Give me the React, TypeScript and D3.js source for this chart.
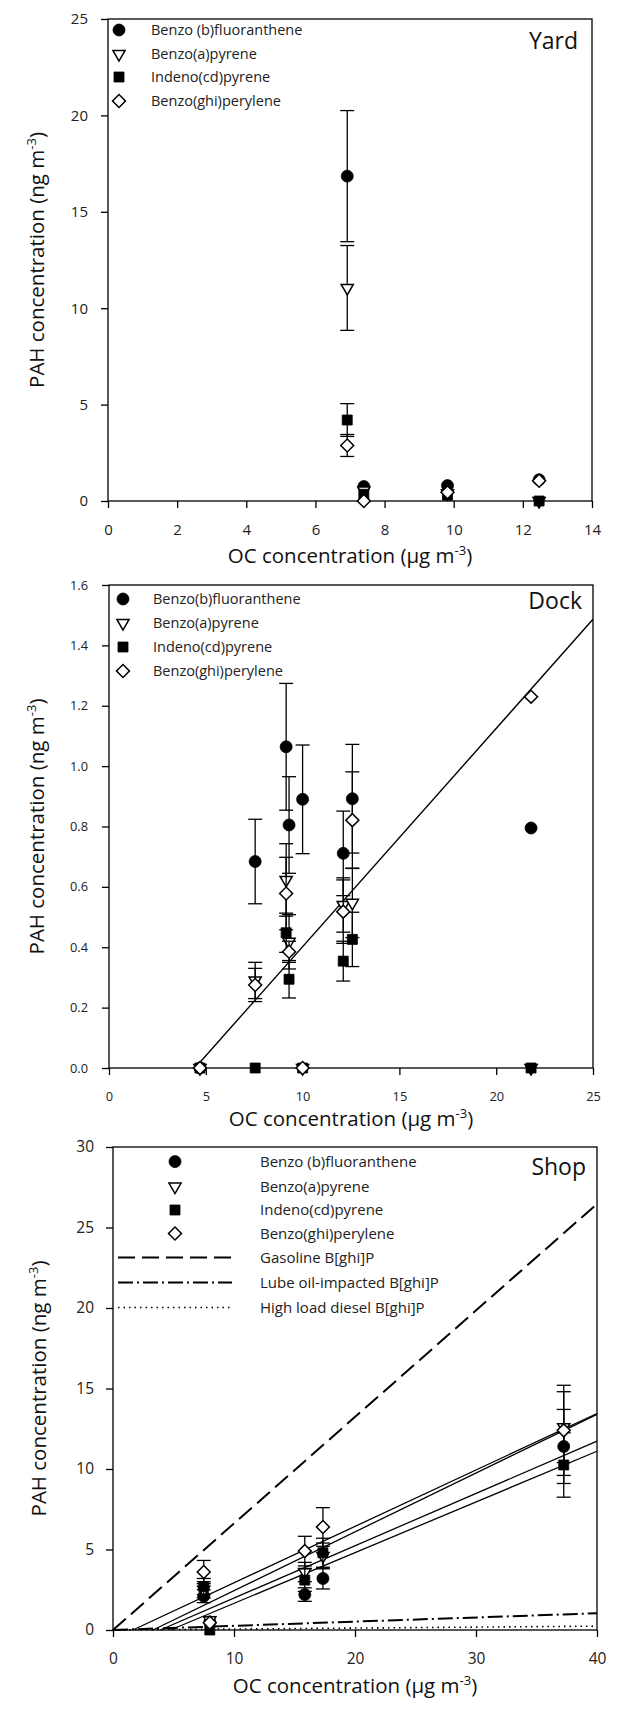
import * as d3 from "d3";
import { useRef, useEffect } from "react";

// legend labels
const pahNamesSpaced = ["Benzo (b)fluoranthene", "Benzo(a)pyrene", "Indeno(cd)pyrene", "Benzo(ghi)perylene"];
const pahNames = ["Benzo(b)fluoranthene", "Benzo(a)pyrene", "Indeno(cd)pyrene", "Benzo(ghi)perylene"];
const sourceNames = ["Gasoline B[ghi]P", "Lube oil-impacted B[ghi]P", "High load diesel B[ghi]P"];

// Yard
const yardOC = [6.92, 7.4, 9.82, 12.47];
const yardBbF = [16.85, 0.75, 0.8, 1.1];
const yardBbFErr = [3.4, 0, 0, 0];
const yardBaP = [11.05, 0.55, 0.4, 0];
const yardBaPErr = [2.2, 0, 0, 0];
const yardIcdP = [4.2, 0.35, 0.3, 0];
const yardIcdPErr = [0.85, 0, 0, 0];
const yardBghiP = [2.88, 0, 0.45, 1.05];
const yardBghiPErr = [0.57, 0, 0, 0];

// Dock
const dockOC = [4.7, 7.55, 9.15, 9.3, 10.0, 12.1, 12.57, 21.8];
const dockBbF = [0, 0.684, 1.064, 0.805, 0.89, 0.711, 0.892, 0.795];
const dockBbFErr = [0, 0.14, 0.21, 0.16, 0.18, 0.14, 0.18, 0];
const dockBaP = [0, 0.29, 0.623, 0.418, 0, 0.54, 0.547, 0];
const dockBaPErr = [0, 0.06, 0.12, 0.09, 0, 0.09, 0.115, 0];
const dockIcdP = [0, 0, 0.448, 0.294, 0, 0.354, 0.426, 0];
const dockIcdPErr = [0, 0, 0.065, 0.062, 0, 0.066, 0.09, 0];
const dockBghiP = [0, 0.275, 0.578, 0.385, 0, 0.518, 0.821, 1.23];
const dockBghiPErr = [0, 0.055, 0.12, 0.035, 0, 0.105, 0.16, 0];
const dockFitSlope = 0.0723;
const dockFitX0 = 4.44;

// Shop
const shopOC = [7.5, 8.0, 15.85, 17.35, 37.25];
const shopBbF = [2.1, 0.5, 2.2, 3.2, 11.4];
const shopBbFErr = [0.4, 0, 0.42, 0.65, 2.3];
const shopBaP = [2.5, 0.6, 3.6, 4.6, 12.6];
const shopBaPErr = [0.5, 0, 0.6, 0.8, 2.2];
const shopIcdP = [2.7, 0, 3.1, 4.8, 10.25];
const shopIcdPErr = [0.5, 0, 0.7, 0.9, 2.0];
const shopBghiP = [3.6, 0.45, 4.9, 6.4, 12.4];
const shopBghiPErr = [0.72, 0, 0.92, 1.2, 2.8];
// fitted lines, order BbF, BaP, IcdP, BghiP
const shopFitSlope = [0.315, 0.365, 0.325, 0.3505];
const shopFitX0 = [4.75, 3.3, 3.9, 1.64];
// source profiles (ng PAH per ug OC)
const sourceSlope = [0.6616, 0.026, 0.006];

const shapes = ["circle", "triangle", "square", "diamond"];
const sourceDash = ["17,7", "15,4,2,4", "1.5,4"];
const FONT = "'Open Sans', 'Noto Sans', sans-serif";

const symbolPath = (shape: string) => {
  if (shape === "circle") return d3.symbol(d3.symbolCircle, 113)()!;
  if (shape === "square") return d3.symbol(d3.symbolSquare, 100)()!;
  if (shape === "triangle") return d3.symbol(d3.symbolTriangle, 64)()!;
  return d3.symbol(d3.symbolSquare, 84)()!;
};
const symbolRotate = (shape: string) => (shape === "triangle" ? 180 : shape === "diamond" ? 45 : 0);
const filled = (shape: string) => shape === "circle" || shape === "square";

const drawSymbol = (g: any, shape: string, cx: number, cy: number) => {
  g.append("path")
    .attr("d", symbolPath(shape))
    .attr("transform", `translate(${cx},${cy}) rotate(${symbolRotate(shape)})`)
    .attr("fill", filled(shape) ? "#000" : "#fff")
    .attr("stroke", "#000")
    .attr("stroke-width", filled(shape) ? 0.8 : 1.5);
};

const addUnitTitle = (t: any, main: string) => {
  t.append("tspan").text(main);
  t.append("tspan").attr("font-size", 13).attr("dy", -8).text("-3");
  t.append("tspan").attr("dy", 8).text(")");
};

const panels = [
  {
    label: "Yard", top: 19, bottom: 501, left: 108, right: 592,
    xMax: 14, xStep: 2, yMax: 25, yStep: 5, yFmt: "d",
    tickFont: 15, xPad: 16.5, yPad: 13, xTitleY: 563, yTitleX: 44,
    labelY: 49, labelRight: 578, legendFont: 14.5,
    symX: 119, textX: 151, rows: [30, 54, 77, 101],
    x: yardOC, names: pahNamesSpaced,
    vals: [yardBbF, yardBaP, yardIcdP, yardBghiP],
    errs: [yardBbFErr, yardBaPErr, yardIcdPErr, yardBghiPErr],
  },
  {
    label: "Dock", top: 585, bottom: 1068, left: 109, right: 593,
    xMax: 25, xStep: 5, yMax: 1.6, yStep: 0.2, yFmt: ".1f",
    tickFont: 12.8, xPad: 16.5, yPad: 14, xTitleY: 1126, yTitleX: 44,
    labelY: 609, labelRight: 582, legendFont: 14.5,
    symX: 123, textX: 153, rows: [599, 623, 647, 671],
    x: dockOC, names: pahNames,
    vals: [dockBbF, dockBaP, dockIcdP, dockBghiP],
    errs: [dockBbFErr, dockBaPErr, dockIcdPErr, dockBghiPErr],
  },
  {
    label: "Shop", top: 1147, bottom: 1630, left: 113, right: 597,
    xMax: 40, xStep: 10, yMax: 30, yStep: 5, yFmt: "d",
    tickFont: 15.5, xPad: 15.5, yPad: 12, xTitleY: 1693, yTitleX: 46,
    labelY: 1175, labelRight: 586, legendFont: 15,
    symX: 175, textX: 260, rows: [1161.6, 1186.6, 1210, 1233.5, 1257.6, 1282.6, 1307.5],
    x: shopOC, names: pahNamesSpaced,
    vals: [shopBbF, shopBaP, shopIcdP, shopBghiP],
    errs: [shopBbFErr, shopBaPErr, shopIcdPErr, shopBghiPErr],
  },
];

export default function App() {
  const svgRef = useRef<SVGSVGElement | null>(null);

  useEffect(() => {
    if (!svgRef.current) return;
    const svg = d3.select(svgRef.current);
    svg.selectAll("*").remove();

    panels.forEach((p, pi) => {
      const g = svg.append("g");
      const x = d3.scaleLinear().domain([0, p.xMax]).range([p.left, p.right]);
      const y = d3.scaleLinear().domain([0, p.yMax]).range([p.bottom, p.top]);

      // axes
      const xAxis = g.append("g")
        .attr("transform", `translate(0,${p.bottom})`)
        .call(d3.axisBottom(x)
          .tickValues(d3.range(0, p.xMax + 1e-6, p.xStep))
          .tickSize(7).tickSizeOuter(0).tickPadding(p.xPad)
          .tickFormat(d3.format("d") as any));
      const yAxis = g.append("g")
        .attr("transform", `translate(${p.left},0)`)
        .call(d3.axisLeft(y)
          .tickValues(d3.range(0, p.yMax + 1e-6, p.yStep))
          .tickSize(7).tickSizeOuter(0).tickPadding(p.yPad)
          .tickFormat(d3.format(p.yFmt) as any));
      [xAxis, yAxis].forEach((a) => {
        a.select(".domain").remove();
        a.selectAll("line").attr("stroke", "#000").attr("stroke-width", 1.3);
        a.selectAll("text").attr("font-family", FONT).attr("font-size", p.tickFont).attr("fill", "#222");
      });

      // frame
      g.append("rect")
        .attr("x", p.left).attr("y", p.top)
        .attr("width", p.right - p.left).attr("height", p.bottom - p.top)
        .attr("fill", "none").attr("stroke", "#000").attr("stroke-width", 1.3);

      // fitted and source lines
      const line = d3.line<[number, number]>().x((d) => x(d[0])).y((d) => y(d[1]));
      if (pi === 1) {
        g.append("path")
          .attr("d", line([[dockFitX0, 0], [p.xMax, dockFitSlope * (p.xMax - dockFitX0)]]))
          .attr("stroke", "#000").attr("stroke-width", 1.4).attr("fill", "none");
      }
      if (pi === 2) {
        shopFitSlope.forEach((s, i) => {
          g.append("path")
            .attr("d", line([[shopFitX0[i], 0], [p.xMax, s * (p.xMax - shopFitX0[i])]]))
            .attr("stroke", "#000").attr("stroke-width", 1.3).attr("fill", "none");
        });
        sourceSlope.forEach((s, i) => {
          g.append("path")
            .attr("d", line([[0, 0], [p.xMax, s * p.xMax]]))
            .attr("stroke", "#000").attr("stroke-width", i === 2 ? 1.6 : 2)
            .attr("stroke-dasharray", sourceDash[i]).attr("fill", "none");
        });
      }

      // error bars and symbols
      p.vals.forEach((vals, si) => {
        const errs = p.errs[si];
        vals.forEach((v, k) => {
          const e = errs[k];
          if (e > 0) {
            const cx = x(p.x[k]);
            g.append("line").attr("x1", cx).attr("x2", cx).attr("y1", y(v - e)).attr("y2", y(v + e))
              .attr("stroke", "#000").attr("stroke-width", 1.3);
            [v - e, v + e].forEach((yy) => {
              g.append("line").attr("x1", cx - 7).attr("x2", cx + 7).attr("y1", y(yy)).attr("y2", y(yy))
                .attr("stroke", "#000").attr("stroke-width", 1.3);
            });
          }
        });
        vals.forEach((v, k) => drawSymbol(g, shapes[si], x(p.x[k]), y(v)));
      });

      // legend
      p.names.forEach((name, i) => {
        drawSymbol(g, shapes[i], p.symX, p.rows[i]);
        g.append("text").attr("x", p.textX).attr("y", p.rows[i]).attr("dy", "0.35em")
          .attr("font-family", FONT).attr("font-size", p.legendFont).attr("fill", "#222").text(name);
      });
      if (pi === 2) {
        sourceNames.forEach((name, i) => {
          const ry = p.rows[4 + i];
          g.append("line").attr("x1", 118).attr("x2", 232).attr("y1", ry).attr("y2", ry)
            .attr("stroke", "#000").attr("stroke-width", i === 2 ? 1.6 : 2)
            .attr("stroke-dasharray", sourceDash[i]);
          g.append("text").attr("x", p.textX).attr("y", ry).attr("dy", "0.35em")
            .attr("font-family", FONT).attr("font-size", p.legendFont).attr("fill", "#222").text(name);
        });
      }

      // panel label
      g.append("text").attr("x", p.labelRight).attr("y", p.labelY).attr("text-anchor", "end")
        .attr("font-family", FONT).attr("font-size", 23).attr("fill", "#111").text(p.label);

      // axis titles
      const xt = g.append("text").attr("x", (p.left + p.right) / 2).attr("y", p.xTitleY)
        .attr("text-anchor", "middle").attr("font-family", FONT).attr("font-size", 20.5).attr("fill", "#111");
      addUnitTitle(xt, "OC concentration (\u03bcg m");
      const yt = g.append("text")
        .attr("transform", `translate(${p.yTitleX},${(p.top + p.bottom) / 2}) rotate(-90)`)
        .attr("text-anchor", "middle").attr("font-family", FONT).attr("font-size", 20.5).attr("fill", "#111");
      addUnitTitle(yt, "PAH concentration (ng m");
    });
  }, []);

  return (
    <svg ref={svgRef} width={620} height={1714}
      style={{ position: "absolute", left: 0, top: 0, background: "#fff" }} />
  );
}
